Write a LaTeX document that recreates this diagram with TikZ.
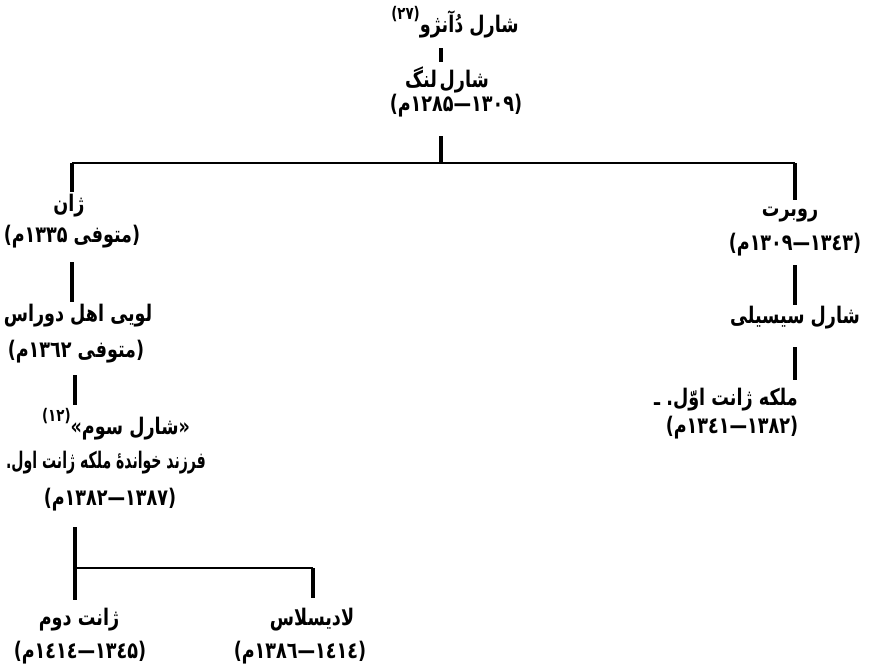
\documentclass[tikz,border=0pt]{standalone}
\usepackage{fontspec}
\usepackage{graphicx}
\newfontfamily\ar[Script=Arabic]{DejaVu Sans}
\newfontfamily\lt{DejaVu Sans}
\newcommand\aw[1]{\hbox{\ar\bfseries #1}}
\newcommand\pz[1]{\hbox{\lt\bfseries #1}}
\newcommand\dt[2]{\pz{(}\aw{م}\aw{#1}\pz{—}\aw{#2}\pz{)}}
\newcommand\mt[1]{\pz{(}\aw{م}\aw{#1}\ \aw{متوفی}\pz{)}}
\newcommand\fn[1]{\raisebox{1.0ex}{\fontsize{9.5}{10}\selectfont\pz{(}\aw{#1}\pz{)}}}
\newcommand\T[2][1]{\scalebox{#1}[1.3]{#2}}
\tikzset{
  txt/.style={inner sep=0pt, font=\ar\bfseries\fontsize{12.5}{14}\selectfont},
  bar/.style={line width=2.6pt},
  hbar/.style={line width=1.6pt}
}
\begin{document}
\begin{tikzpicture}[x=0.025cm,y=-0.025cm]
\useasboundingbox (0,0) rectangle (880,671);
% top
\node[txt] (title) at (455,22) {\T{\fn{۲۷}\aw{دُآنژو}\ \aw{شارل}}};
\node[txt] (lame) at (447,80) {\T{\aw{لنگ}\hspace{2pt}\aw{شارل}}};
\node[txt] (lamed) at (456,106) {\T{\dt{۱۲۸۵}{۱۳۰۹}}};
% left column
\node[txt] (zhan) at (69,206) {\T{\aw{ژان}}};
\node[txt] (zhand) at (72,237) {\T{\mt{۱۳۳۵}}};
\node[txt] (louis) at (78,316) {\T{\aw{دوراس}\ \aw{اهل}\ \aw{لویی}}};
\node[txt] (louisd) at (76,352) {\T{\mt{۱۳٦۲}}};
\node[txt] (ch3) at (116,424) {\T{\fn{۱۲}\pz{«}\aw{سوم}\ \aw{شارل}\pz{»}}};
\node[txt] (adopt) at (106,463) {\T[0.8]{\aw{اول.}\ \aw{ژانت}\ \aw{ملکه}\ \aw{خواندهٔ}\ \aw{فرزند}}};
\node[txt] (ch3d) at (110,500) {\T{\dt{۱۳۸۲}{۱۳۸۷}}};
\node[txt] (j2) at (79,620) {\T{\aw{دوم}\ \aw{ژانت}}};
\node[txt] (j2d) at (80,653) {\T{\dt{۱٤۱٤}{۱۳٤۵}}};
\node[txt] (lad) at (312,620) {\T{\aw{لادیسلاس}}};
\node[txt] (ladd) at (300,653) {\T{\dt{۱۳۸٦}{۱٤۱٤}}};
% right column
\node[txt] (rob) at (790,215) {\T{\aw{روبرت}}};
\node[txt] (robd) at (795,245) {\T{\dt{۱۳۰۹}{۱۳٤۳}}};
\node[txt] (sic) at (795,318) {\T{\aw{سیسیلی}\ \aw{شارل}}};
\node[txt] (j1) at (726,400) {\T{\aw{ـ}\ \aw{اوّل.}\ \aw{ژانت}\ \aw{ملکه}}};
\node[txt] (j1d) at (732,428) {\T{\dt{۱۳٤۱}{۱۳۸۲}}};
% connector points
\coordinate (a1) at (441,48); \coordinate (a2) at (441,62);
\coordinate (b1) at (441,136); \coordinate (b2) at (441,163);
\coordinate (hl) at (72,163); \coordinate (hr) at (795,163);
\coordinate (l1) at (72,192);
\coordinate (r1) at (795,200);
\coordinate (r2a) at (795,265); \coordinate (r2b) at (795,305);
\coordinate (r3a) at (795,347); \coordinate (r3b) at (795,380);
\coordinate (l2a) at (72,262); \coordinate (l2b) at (72,302);
\coordinate (l3a) at (75,375); \coordinate (l3b) at (75,405);
\coordinate (l4a) at (75,527); \coordinate (l4b) at (75,600);
\coordinate (sj) at (75,568); \coordinate (sr) at (313,568); \coordinate (sr2) at (313,598);
\draw[bar] (a1) -- (a2);
\draw[bar] (b1) -- (b2);
\draw[hbar] (hl) -- (hr);
\draw[bar] (hl) -- (l1);
\draw[bar] (hr) -- (r1);
\draw[bar] (r2a) -- (r2b);
\draw[bar] (r3a) -- (r3b);
\draw[bar] (l2a) -- (l2b);
\draw[bar] (l3a) -- (l3b);
\draw[bar] (l4a) -- (l4b);
\draw[hbar] (sj) -- (sr);
\draw[bar] (sr) -- (sr2);
\end{tikzpicture}
\end{document}
